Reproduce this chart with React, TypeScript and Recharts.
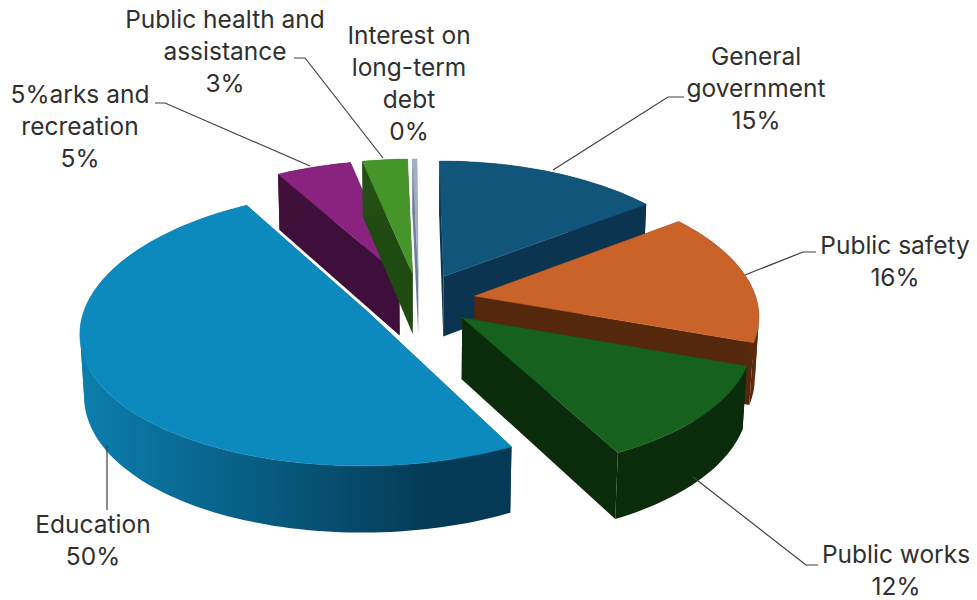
import React from "react";
import { PieChart, Pie } from "recharts";

// Spending shares, listed clockwise starting from the slice at the back left.
const categories = [
  "5%arks and recreation",
  "Public health and assistance",
  "Interest on long-term debt",
  "General government",
  "Public safety",
  "Public works",
  "Education",
];
const shares = [5, 3, 0.3, 15, 16, 12, 50];
const labelLines = [
  ["5%arks and", "recreation"],
  ["Public health and", "assistance"],
  ["Interest on", "long-term", "debt"],
  ["General", "government"],
  ["Public safety"],
  ["Public works"],
  ["Education"],
];

const topColors = ["#8a2380", "#45952a", "#9db0c8", "#12557a", "#c9632a", "#17611f", "#0c8abd"];
const wallLight = ["#3f1039", "#234f14", "#6d7f96", "#0a3450", "#5a2a0e", "#0a2c0a", "#0b7fae"];
const wallDark = ["#3f1039", "#234f14", "#6d7f96", "#0a3450", "#5a2a0e", "#0a2c0a", "#043a56"];
const faceColors = ["#3d0f3a", "#1f4a12", "#6d7f96", "#0a3450", "#55270c", "#0a2c0a", "#043a56"];

// Label placement: text centre, first baseline, leader polyline.
const labelX = [80, 225, 409, 756, 895, 896, 93];
const labelY = [103, 28, 44, 65, 254, 563, 533];
const leaders = [
  [[310, 166], [165, 103], [155, 103]],
  [[383, 158], [305, 58], [294, 58]],
  [],
  [[553, 170], [668, 97], [684, 97]],
  [[745, 275], [803, 252], [816, 252]],
  [[693, 477], [806, 565], [818, 565]],
  [[107, 445], [107, 510]],
];

const WIDTH = 977;
const HEIGHT = 600;
const LINE_H = 32;
const FONT = "Inter, sans-serif";
const TOTAL = shares.reduce((a, b) => a + b, 0);
const START = 90.3 + (360 * (shares[0] + shares[1] + shares[2])) / TOTAL;

// Tilted perspective view of the pie disc.
const SQUASH = 0.472;
const PERSPECTIVE_X = 0.13;
const PERSPECTIVE_Y = 0.11;
const SINK = 0.012;
const THICK = 0.218;
const EXPLODE = 0.2;

const rad = (d: number) => (d * Math.PI) / 180;

function SlantedSlice(props: any) {
  const { cx, cy, outerRadius: R, startAngle, endAngle, index } = props;
  const mid = rad((startAngle + endAngle) / 2);
  const ox = EXPLODE * Math.cos(mid);
  const oy = -EXPLODE * Math.sin(mid);

  // Disc coordinates (x right, y towards the viewer, d down through the thickness).
  const project = (x: number, y: number, d: number) => {
    const X = x + ox;
    const Y = y + oy;
    const wx = 1 - PERSPECTIVE_X * Y + SINK * d;
    const wy = 1 - PERSPECTIVE_Y * Y + SINK * d;
    return [cx + (R * X) / wx, cy + (R * SQUASH * Y) / wy + (R * THICK * d) / wy];
  };
  const rim = (deg: number, d: number) => project(Math.cos(rad(deg)), -Math.sin(rad(deg)), d);
  const poly = (pts: number[][]) => pts.map((p) => `${p[0].toFixed(1)},${p[1].toFixed(1)}`).join(" ");

  const steps = Math.max(2, Math.ceil(Math.abs(startAngle - endAngle) / 1.5));
  const angles = Array.from({ length: steps + 1 }, (_, i) => startAngle + ((endAngle - startAngle) * i) / steps);
  const topEdge = angles.map((a) => rim(a, 0));
  const xs = topEdge.map((p) => p[0]);
  const gradId = `wall-${index}`;
  const face = faceColors[index];
  const top = topColors[index];

  // The rim band folds where its screen x turns round; each stretch gets its own polygon.
  const runs: number[][] = [[angles[0]]];
  let lastDir = 0;
  for (let i = 1; i < angles.length; i++) {
    const dir = Math.sign(xs[i] - xs[i - 1]);
    if (lastDir !== 0 && dir !== 0 && dir !== lastDir) runs.push([angles[i - 1]]);
    if (dir !== 0) lastDir = dir;
    runs[runs.length - 1].push(angles[i]);
  }

  return (
    <g>
      <defs>
        <linearGradient
          id={gradId}
          gradientUnits="userSpaceOnUse"
          x1={Math.min(...xs)}
          x2={Math.max(...xs)}
          y1={0}
          y2={0}
        >
          <stop offset="0" stopColor={wallLight[index]} />
          <stop offset="0.82" stopColor={wallDark[index]} />
          <stop offset="1" stopColor={wallDark[index]} />
        </linearGradient>
      </defs>
      <polygon points={poly([project(0, 0, 0), rim(startAngle, 0), rim(startAngle, 1), project(0, 0, 1)])} fill={face} />
      <polygon points={poly([project(0, 0, 0), rim(endAngle, 0), rim(endAngle, 1), project(0, 0, 1)])} fill={face} />
      {runs.map((run, k) => (
        <polygon
          key={k}
          points={poly([...run.map((a) => rim(a, 0)), ...[...run].reverse().map((a) => rim(a, 1))])}
          fill={`url(#${gradId})`}
        />
      ))}
      <polygon points={poly([project(0, 0, 0), ...topEdge])} fill={top} stroke={top} strokeWidth={0.5} />
    </g>
  );
}

function renderLabel(props: any) {
  const i = props.index;
  const lines = [...labelLines[i], `${Math.round(shares[i])}%`];
  return (
    <text key={i} x={labelX[i]} y={labelY[i]} textAnchor="middle" fontFamily={FONT} fontSize={24.5} fill="#303030">
      {lines.map((t, k) => (
        <tspan key={k} x={labelX[i]} y={labelY[i] + k * LINE_H}>
          {t}
        </tspan>
      ))}
    </text>
  );
}

function renderLeader(props: any) {
  const pts = leaders[props.index];
  if (!pts.length) return <g key={props.index} />;
  return (
    <polyline
      key={props.index}
      points={pts.map((p) => p.join(",")).join(" ")}
      fill="none"
      stroke="#404040"
      strokeWidth={1.2}
    />
  );
}

export default function App() {
  const rows = categories.map((name, i) => ({ name, value: shares[i] }));
  return (
    <div style={{ position: "absolute", left: 0, top: 0, background: "#fff" }}>
      <PieChart width={WIDTH} height={HEIGHT}>
        <Pie
          data={rows}
          dataKey="value"
          nameKey="name"
          cx={414}
          cy={295}
          innerRadius={0}
          outerRadius={282}
          startAngle={START}
          endAngle={START - 360}
          stroke="none"
          isAnimationActive={false}
          shape={SlantedSlice}
          label={renderLabel}
          labelLine={renderLeader}
        />
      </PieChart>
    </div>
  );
}
